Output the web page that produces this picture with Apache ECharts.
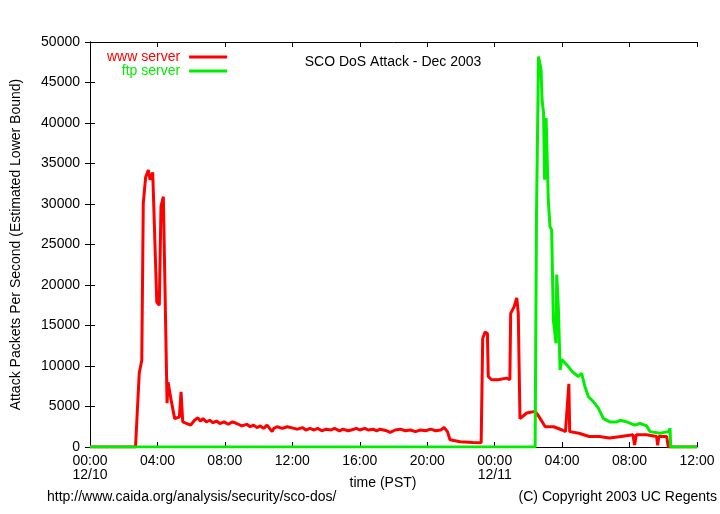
<!DOCTYPE html>
<html><head><meta charset="utf-8">
<script src="https://cdn.jsdelivr.net/npm/echarts@6/dist/echarts.min.js"></script>
<style>html,body{margin:0;padding:0;background:#fff}#c{width:720px;height:514px}</style>
</head><body><div id="c"></div>
<script>
// hours since 00:00 12/10 (PST)
const wwwHours = [0,2.70,2.92,3.07,3.16,3.30,3.46,3.56,3.72,3.80,3.96,4.11,4.21,4.35,4.57,4.63,4.83,5.02,5.30,5.40,5.50,5.97,6.20,6.40,6.55,6.70,6.90,7.10,7.30,7.50,7.70,7.95,8.20,8.45,8.70,9.00,9.30,9.50,9.70,9.90,10.10,10.30,10.50,10.80,10.90,11.10,11.40,11.70,12.10,12.30,12.60,12.80,13.05,13.30,13.50,13.75,14.00,14.30,14.50,14.80,15.00,15.30,15.50,15.80,16.00,16.30,16.50,16.80,17.00,17.20,17.40,17.60,17.80,18.10,18.40,18.70,19.00,19.30,19.60,19.90,20.20,20.50,20.80,21.00,21.20,21.35,21.95,22.70,23.20,23.29,23.43,23.57,23.62,23.82,24.20,24.70,24.90,24.95,25.15,25.31,25.40,25.50,25.90,26.40,26.55,26.70,27.00,27.50,28.00,28.20,28.40,28.45,29.00,29.60,30.20,30.80,31.50,32.20,32.30,32.40,33.00,33.60,33.67,33.73,34.20,34.30,36];
const wwwValues = [0,0,9100,10700,30100,33300,34200,33000,33900,33800,17900,17500,29700,30900,5400,8000,5600,3500,3700,6800,3100,2700,3300,3600,3200,3500,3100,3300,3000,3200,2900,3100,2800,3100,2900,2600,2800,2500,2700,2400,2600,2300,2700,1900,2300,2500,2300,2500,2300,2200,2400,2100,2300,2100,2300,2000,2200,2100,2300,2000,2200,2000,2100,2300,2100,2300,2100,2200,2000,2200,2100,2000,1800,2100,2200,2000,2100,1900,2100,2000,2200,2000,2100,2400,1900,900,650,550,530,13400,14200,14000,8700,8300,8300,8500,8300,16500,17300,18400,16500,3500,4200,4400,4000,3500,2500,2500,2100,1900,7800,1900,1700,1300,1300,1100,1300,1500,250,1500,1500,1300,200,1300,1300,0,0];
const ftpHours = [0,26.40,26.48,26.60,26.75,26.81,26.90,26.96,27.05,27.18,27.28,27.38,27.48,27.64,27.68,27.78,27.88,27.98,28.30,28.60,28.96,29.16,29.36,29.56,29.85,30.15,30.45,30.84,31.24,31.44,31.83,32.32,32.62,33.02,33.21,33.81,34.30,34.40,34.44,36];
const ftpValues = [0,0,28400,48200,46600,42900,41200,33000,40600,30500,27200,26800,15700,12800,21300,17000,9500,10800,10100,9300,8700,9100,7400,6200,5600,4800,3500,3100,3100,3300,3100,2700,2900,2600,1900,1700,1900,2300,0,0];
const xTickLabels = ['00:00\n12/10','04:00','08:00','12:00','16:00','20:00','00:00\n12/11','04:00','08:00','12:00'];

const FONT = '"Liberation Sans", Arial, sans-serif';
const FS = 14;
const chart = echarts.init(document.getElementById('c'));
const tickStyle = {show:true, inside:true, length:5, lineStyle:{color:'#000', width:1}};
chart.setOption({
  animation:false,
  textStyle:{fontFamily:FONT},
  grid:{left:90, right:23, top:42, bottom:67, show:false, containLabel:false, outerBoundsMode:'none'},
  legend:{
    left:102, top:45, orient:'vertical', align:'right', itemGap:0,
    itemWidth:38, itemHeight:14, selectedMode:false,
    itemStyle:{opacity:0}, lineStyle:{width:3},
    textStyle:{fontFamily:FONT, fontSize:FS, padding:[0,4,0,0]},
    data:[{name:'www server', textStyle:{color:'#ff0000'}},
          {name:'ftp server', textStyle:{color:'#00ee00'}}]
  },
  graphic:[
    {type:'text', x:393, y:62, style:{text:'SCO DoS Attack - Dec 2003', font:FS+'px '+FONT, fill:'#000', textAlign:'center', textVerticalAlign:'middle'}},
    {type:'text', x:383, y:483, style:{text:'time (PST)', font:FS+'px '+FONT, fill:'#000', textAlign:'center', textVerticalAlign:'middle'}},
    {type:'text', x:47, y:497, style:{text:'http://www.caida.org/analysis/security/sco-dos/', font:FS+'px '+FONT, fill:'#000', textAlign:'left', textVerticalAlign:'middle'}},
    {type:'text', x:717, y:497, style:{text:'(C) Copyright 2003 UC Regents', font:FS+'px '+FONT, fill:'#000', textAlign:'right', textVerticalAlign:'middle'}}
  ],
  xAxis:[
    {type:'value', min:0, max:36, interval:4, position:'bottom',
     axisLine:{show:true, onZero:false, lineStyle:{color:'#000', width:1}},
     axisTick:tickStyle, splitLine:{show:false},
     axisLabel:{color:'#000', fontSize:FS, margin:7, lineHeight:14, fontFamily:FONT,
       formatter:(v)=>xTickLabels[Math.round(v/4)]}},
    {type:'value', min:0, max:36, interval:4, position:'top',
     axisLine:{show:true, onZero:false, lineStyle:{color:'#000', width:1}},
     axisTick:tickStyle, splitLine:{show:false}, axisLabel:{show:false}}
  ],
  yAxis:[
    {type:'value', min:0, max:50000, interval:5000, position:'left',
     name:'Attack Packets Per Second (Estimated Lower Bound)', nameLocation:'middle', nameGap:67, nameRotate:90,
     nameTextStyle:{color:'#000', fontSize:FS, fontFamily:FONT},
     axisLine:{show:true, lineStyle:{color:'#000', width:1}},
     axisTick:tickStyle, splitLine:{show:false},
     axisLabel:{color:'#000', fontSize:FS, margin:10, fontFamily:FONT, formatter:(v)=>String(v)}},
    {type:'value', min:0, max:50000, interval:5000, position:'right',
     axisLine:{show:true, lineStyle:{color:'#000', width:1}},
     axisTick:tickStyle, splitLine:{show:false}, axisLabel:{show:false}}
  ],
  series:[
    {name:'www server', type:'line', symbol:'none', color:'#ff0000',
     lineStyle:{color:'#ff0000', width:3}, z:3,
     data:wwwHours.map((h,i)=>[h, wwwValues[i]])},
    {name:'ftp server', type:'line', symbol:'none', color:'#00ee00',
     lineStyle:{color:'#00ee00', width:3}, z:4,
     data:ftpHours.map((h,i)=>[h, ftpValues[i]])}
  ]
});
</script></body></html>
